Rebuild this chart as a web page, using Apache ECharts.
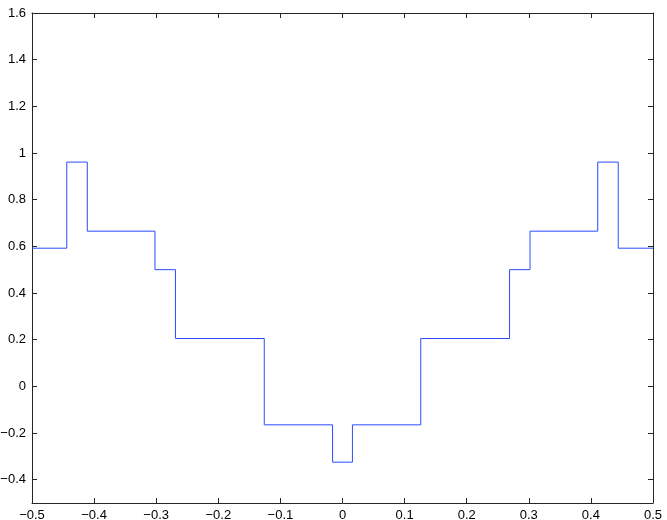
<!DOCTYPE html>
<html><head><meta charset="utf-8">
<script src="https://cdn.jsdelivr.net/npm/echarts@6/dist/echarts.min.js"></script>
<style>html,body{margin:0;padding:0;background:#fff}#c{width:667px;height:520px}</style>
</head><body><div id="c"></div>
<script>
// breakpoints (x) and value that holds from each breakpoint onward
const stepX = [-0.5, -0.444, -0.411, -0.302, -0.269, -0.126, -0.016, 0.016, 0.126, 0.269, 0.302, 0.411, 0.444, 0.5];
const stepY = [0.592, 0.961, 0.665, 0.5, 0.205, -0.165, -0.325, -0.165, 0.205, 0.5, 0.665, 0.961, 0.592, 0.592];
const xTicks = [-0.5, -0.4, -0.3, -0.2, -0.1, 0, 0.1, 0.2, 0.3, 0.4, 0.5];
const yTicks = [-0.4, -0.2, 0, 0.2, 0.4, 0.6, 0.8, 1, 1.2, 1.4, 1.6];

const fmt = v => String(+v.toFixed(2)).replace('-', '\u2212');
const axisCol = '#262626';
const font = {color: '#000', fontFamily: 'Liberation Sans', fontSize: 13};

function xAx(pos, labels) {
  return {type: 'value', position: pos, min: -0.5, max: 0.5, interval: 0.1,
    axisLine: {show: true, onZero: false, lineStyle: {color: axisCol, width: 1}},
    axisTick: {show: true, inside: true, length: 5, lineStyle: {color: axisCol}, customValues: xTicks},
    axisLabel: Object.assign({show: labels, margin: 6, formatter: fmt, customValues: xTicks}, font),
    splitLine: {show: false}};
}
function yAx(pos, labels) {
  return {type: 'value', position: pos, min: -0.5, max: 1.6, interval: 0.2,
    axisLine: {show: true, onZero: false, lineStyle: {color: axisCol, width: 1}},
    axisTick: {show: true, inside: true, length: 5, lineStyle: {color: axisCol},
      customValues: yTicks},
    axisLabel: Object.assign({show: labels, margin: 6, formatter: fmt, customValues: yTicks}, font),
    splitLine: {show: false}};
}

const chart = echarts.init(document.getElementById('c'), null, {renderer: 'canvas'});
chart.setOption({
  animation: false,
  backgroundColor: '#fff',
  grid: {left: 32, right: 14, top: 13, bottom: 17, containLabel: false, outerBoundsMode: 'none'},
  xAxis: [xAx('bottom', true), xAx('top', false)],
  yAxis: [yAx('left', true), yAx('right', false)],
  series: [{
    type: 'line', step: 'end', symbol: 'none', xAxisIndex: 0, yAxisIndex: 0,
    lineStyle: {color: '#2a4bff', width: 1},
    data: stepX.map((x, i) => [x, stepY[i]])
  }]
});
</script></body></html>
